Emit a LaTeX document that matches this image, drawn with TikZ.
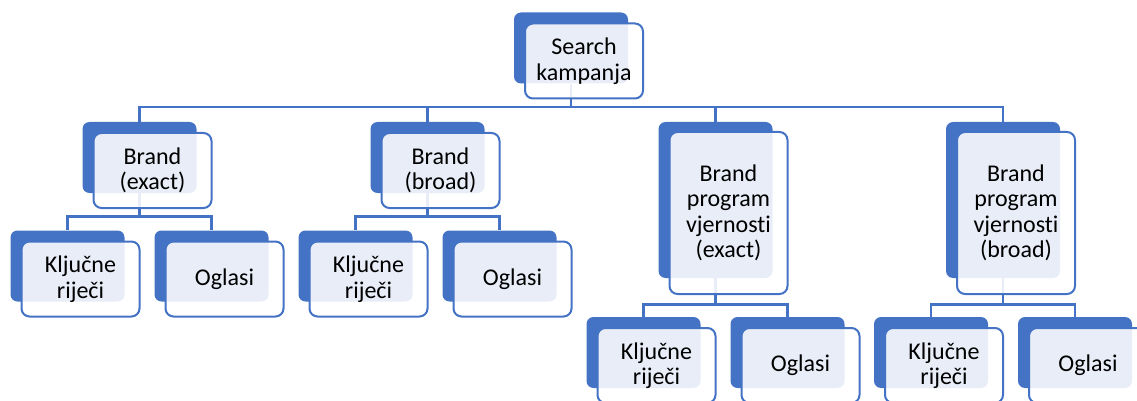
\documentclass[tikz,border=0pt]{standalone}
\usepackage{fontspec}
\setmainfont[Ligatures=NoCommon]{Carlito}
\usepackage{tikz}
\usetikzlibrary{positioning}
\definecolor{plava}{HTML}{4472C4}

\tikzset{
    straznja/.style={rectangle, rounded corners=7pt, fill=plava, minimum width=114pt, minimum height=71pt},
    straznjaV/.style={straznja, minimum height=156pt},
    prednja/.style={rectangle, rounded corners=8pt, draw=plava, line width=2pt, fill=white, fill opacity=0.88, text opacity=1,
        minimum width=118pt, minimum height=75pt, align=center, inner sep=2pt, font=\fontsize{24}{25.5}\selectfont},
    prednjaV/.style={prednja, minimum height=162pt},
    veza/.style={draw=plava, line width=2.6pt}
}

\begin{document}
\begin{tikzpicture}[x=1pt,y=-1pt]
        \useasboundingbox (0,0) rectangle (1137,401);

        % straznji pravokutnici
        \node at (571,48)      [straznja]  (srch) {};
        \node at (139.5,157.5) [straznja]  (bEx) {};
        \node at (427.5,157.5) [straznja]  (bBr) {};
        \node at (715.5,200)   [straznjaV] (bpEx) {};
        \node at (1003,200)    [straznjaV] (bpBr) {};

        \node at (67.5,266)    [straznja]  (kEx) {};
        \node at (211.5,266)   [straznja]  (oEx) {};
        \node at (355.5,266)   [straznja]  (kBr) {};
        \node at (499.5,266)   [straznja]  (oBr) {};
        \node at (643.5,352.5) [straznja]  (kpEx) {};
        \node at (787.5,352.5) [straznja]  (opEx) {};
        \node at (931,352.5)   [straznja]  (kpBr) {};
        \node at (1075,352.5)  [straznja]  (opBr) {};

        % veze
        \draw[veza] (srch.south) -- ++(0,23.5) -| (bEx.north);
        \draw[veza] (srch.south) -- ++(0,23.5) -| (bBr.north);
        \draw[veza] (srch.south) -- ++(0,23.5) -| (bpEx.north);
        \draw[veza] (srch.south) -- ++(0,23.5) -| (bpBr.north);

        \draw[veza] (bEx.south)  -- ++(0,23) -| (kEx.north);
        \draw[veza] (bEx.south)  -- ++(0,23) -| (oEx.north);
        \draw[veza] (bBr.south)  -- ++(0,23) -| (kBr.north);
        \draw[veza] (bBr.south)  -- ++(0,23) -| (oBr.north);
        \draw[veza] (bpEx.south) -- ++(0,26) -| (kpEx.north);
        \draw[veza] (bpEx.south) -- ++(0,26) -| (opEx.north);
        \draw[veza] (bpBr.south) -- ++(0,26) -| (kpBr.north);
        \draw[veza] (bpBr.south) -- ++(0,26) -| (opBr.north);

        % prednji pravokutnici s tekstom
        \node at (584,61)      [prednja]  (srchP) {Search\\kampanja};
        \node at (152.5,170.5) [prednja]  (bExP) {Brand\\(exact)};
        \node at (440.5,170.5) [prednja]  (bBrP) {Brand\\(broad)};
        \node at (728.5,213)   [prednjaV] (bpExP) {Brand\\program\\vjernosti\\(exact)};
        \node at (1016,213)    [prednjaV] (bpBrP) {Brand\\program\\vjernosti\\(broad)};

        \node at (80.5,279)    [prednja]  (kExP) {Ključne\\riječi};
        \node at (224.5,279)   [prednja]  (oExP) {Oglasi};
        \node at (368.5,279)   [prednja]  (kBrP) {Ključne\\riječi};
        \node at (512.5,279)   [prednja]  (oBrP) {Oglasi};
        \node at (656.5,365.5) [prednja]  (kpExP) {Ključne\\riječi};
        \node at (800.5,365.5) [prednja]  (opExP) {Oglasi};
        \node at (944,365.5)   [prednja]  (kpBrP) {Ključne\\riječi};
        \node at (1088,365.5)  [prednja]  (opBrP) {Oglasi};
\end{tikzpicture}
\end{document}
